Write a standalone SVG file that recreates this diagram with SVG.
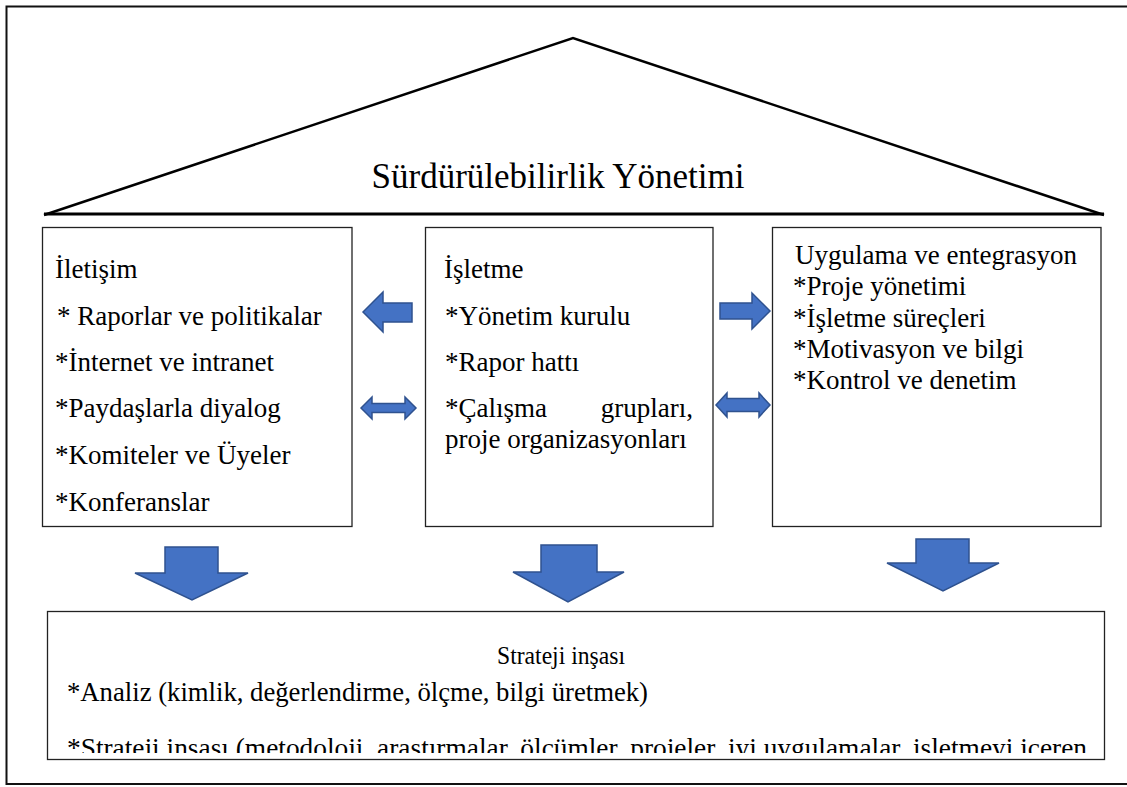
<svg xmlns="http://www.w3.org/2000/svg" width="1127" height="787" viewBox="0 0 1127 787">
<style>
text{font-family:'Liberation Serif','Times New Roman',serif;font-size:27px;fill:#000}
.title{font-size:35px}
.sub{font-size:26px}
.box{fill:#fff;stroke:#222;stroke-width:1.3}
.arr{fill:#4472C4;stroke:#2F528F;stroke-width:1.5;stroke-linejoin:miter}
</style>
<defs>
<clipPath id="clipB"><rect x="47" y="611" width="1058" height="142"/></clipPath>
</defs>
<rect x="0" y="0" width="1127" height="787" fill="#fff"/>
<rect x="6.5" y="6.5" width="1130" height="777.5" fill="none" stroke="#111" stroke-width="2"/>
<g id="roof">
<polyline points="44,215 573,38 1104,215" fill="none" stroke="#000" stroke-width="2.5"/>
<line x1="44" y1="214" x2="1104" y2="214" stroke="#000" stroke-width="3"/>
<text class="title" x="558" y="188" text-anchor="middle">Sürdürülebilirlik Yönetimi</text>
</g>
<g id="iletisim">
<rect class="box" x="42.5" y="227.5" width="309.5" height="299"/>
<text x="55" y="278">İletişim</text>
<text x="57" y="325">* Raporlar ve politikalar</text>
<text x="55" y="371">*İnternet ve intranet</text>
<text x="55" y="417">*Paydaşlarla diyalog</text>
<text x="55" y="464">*Komiteler ve Üyeler</text>
<text x="55" y="511">*Konferanslar</text>
</g>
<g id="isletme">
<rect class="box" x="425.5" y="227.5" width="287.5" height="299"/>
<text x="444" y="278">İşletme</text>
<text x="445" y="325">*Yönetim kurulu</text>
<text x="445" y="371">*Rapor hattı</text>
<text x="445" y="417">*Çalışma</text>
<text x="693" y="417" text-anchor="end">grupları,</text>
<text x="445" y="448">proje organizasyonları</text>
</g>
<g id="uygulama">
<rect class="box" x="772.5" y="227.5" width="328.5" height="299"/>
<text x="795" y="264">Uygulama ve entegrasyon</text>
<text x="793" y="295">*Proje yönetimi</text>
<text x="793" y="327">*İşletme süreçleri</text>
<text x="793" y="358">*Motivasyon ve bilgi</text>
<text x="793" y="389">*Kontrol ve denetim</text>
</g>
<g id="strateji">
<rect class="box" x="47.5" y="611.5" width="1057" height="148"/>
<text class="sub" x="497" y="664" textLength="128" lengthAdjust="spacingAndGlyphs">Strateji inşası</text>
<text x="67" y="701" textLength="581" lengthAdjust="spacingAndGlyphs">*Analiz (kimlik, değerlendirme, ölçme, bilgi üretmek)</text>
<g clip-path="url(#clipB)">
<text x="67" y="757" textLength="1020" lengthAdjust="spacingAndGlyphs">*Strateji inşası (metodoloji, araştırmalar, ölçümler, projeler, iyi uygulamalar, işletmeyi içeren</text>
</g>
</g>
<g id="connectors">
<polygon class="arr" points="363,312 383,292 383,303 412,303 412,322 383,322 383,332"/>
<polygon class="arr" points="361,408 372,397 372,403.5 405,403.5 405,397 416,408 405,419 405,412.5 372,412.5 372,419"/>
<polygon class="arr" points="770,311 752,293 752,303 720,303 720,319 752,319 752,329"/>
<polygon class="arr" points="716,405 727,393 727,398.5 759,398.5 759,393 770,405 759,417 759,411.5 727,411.5 727,417"/>
<polygon class="arr" points="165,547 218,547 218,573 248,573 192,600 135,573 165,573"/>
<polygon class="arr" points="541,545 597,545 597,572 624,572 568,602 513,572 541,572"/>
<polygon class="arr" points="916,539 969,539 969,563 999,563 943,591 887,563 916,563"/>
</g>
</svg>
